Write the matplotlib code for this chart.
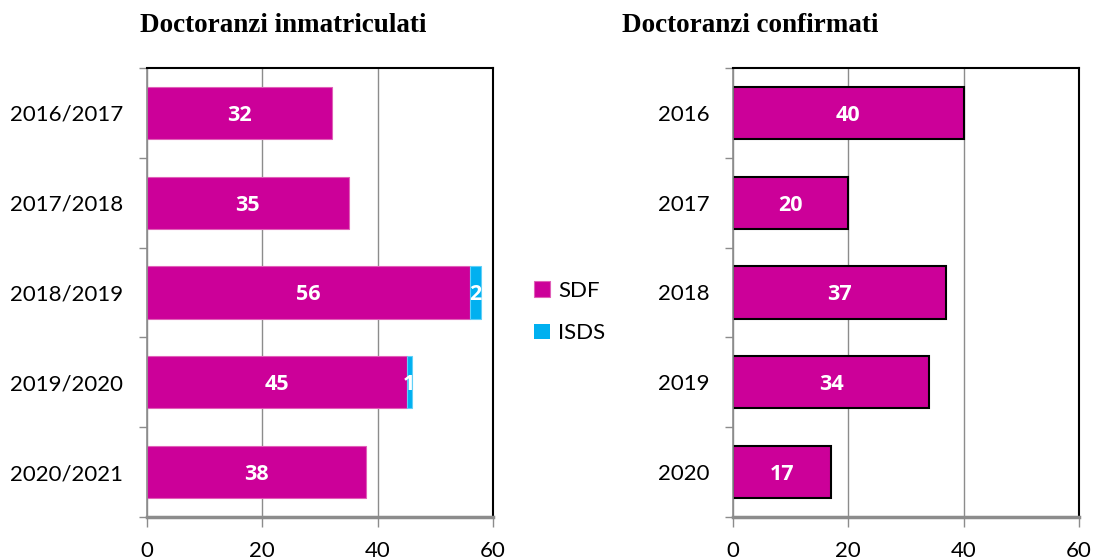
import matplotlib.pyplot as plt
import numpy as np

# dati
anni_accademici = ["2016/2017", "2017/2018", "2018/2019", "2019/2020", "2020/2021"]
sdf = [32, 35, 56, 45, 38]
isds = [0, 0, 2, 1, 0]

anni = ["2016", "2017", "2018", "2019", "2020"]
confermati = [40, 20, 37, 34, 17]

magenta = "#CC0099"
ciano = "#00B0F0"
grigio = "#8C8C8C"

plt.rcParams['font.family'] = ['Lato', 'DejaVu Sans']

fig = plt.figure(figsize=(10.94, 5.59), dpi=100)
ax1 = fig.add_axes([147 / 1094, 1 - 517 / 559, 346 / 1094, 449 / 559])
ax2 = fig.add_axes([733 / 1094, 1 - 517 / 559, 346 / 1094, 449 / 559])

font_valori = dict(color='white', fontsize=15.5, fontweight='bold', family='Open Sans',
                   ha='center', va='center_baseline')


def stile_assi(ax, etichette, titolo, titolo_x):
    y = np.arange(len(etichette))
    ax.set_xlim(0, 60)
    ax.set_ylim(len(etichette) - 0.5, -0.5)
    ax.set_xticks([0, 20, 40, 60])
    ax.set_yticks(y)
    ax.set_yticklabels(etichette, fontsize=16)
    ax.set_yticks(np.arange(len(etichette) + 1) - 0.5, minor=True)
    ax.tick_params(axis='y', which='major', length=0, pad=17)
    ax.tick_params(axis='y', which='minor', length=6, color=grigio, width=1)
    ax.tick_params(axis='x', length=7, color=grigio, width=1, labelsize=16, pad=10)
    ax.grid(axis='x', color=grigio, linewidth=1)
    ax.set_axisbelow(True)
    ax.spines['top'].set_color('black')
    ax.spines['top'].set_linewidth(1.5)
    ax.spines['right'].set_color('black')
    ax.spines['right'].set_linewidth(1.5)
    ax.spines['left'].set_color(grigio)
    ax.spines['left'].set_linewidth(1.2)
    ax.spines['bottom'].set_color(grigio)
    ax.spines['bottom'].set_linewidth(2.5)
    fig.text(titolo_x / 1094, 1 - 26 / 559, titolo, fontsize=19.5, fontweight='bold',
             family='Liberation Serif', ha='left', va='center')


# grafico inmatricolati
y1 = np.arange(len(anni_accademici))
b1 = ax1.barh(y1, sdf, height=0.58, color=magenta, edgecolor='#E060B8', linewidth=0.8, label="SDF")
b2 = ax1.barh(y1, isds, left=sdf, height=0.58, color=ciano, edgecolor='#60D0F8',
              linewidth=[0.8 if v > 0 else 0 for v in isds], label="ISDS")
for i in range(len(sdf)):
    ax1.text(sdf[i] / 2, i, str(sdf[i]), **font_valori)
    if isds[i] > 0:
        ax1.text(sdf[i] + isds[i] / 2, i, str(isds[i]), **font_valori)
stile_assi(ax1, anni_accademici, "Doctoranzi inmatriculati", 140)

# grafico confermati
y2 = np.arange(len(anni))
ax2.barh(y2, confermati, height=0.58, color=magenta, edgecolor='black', linewidth=1.5)
for i in range(len(confermati)):
    ax2.text(confermati[i] / 2, i, str(confermati[i]), **font_valori)
stile_assi(ax2, anni, "Doctoranzi confirmati", 622)

fig.legend(handles=[b1, b2], labels=["SDF", "ISDS"], loc='upper left',
           bbox_to_anchor=(514 / 1094, 1 - 261 / 559), frameon=False, fontsize=16,
           handlelength=0.7, handleheight=0.7, handletextpad=0.4, labelspacing=1.0)

plt.savefig("out.png", dpi=100)
